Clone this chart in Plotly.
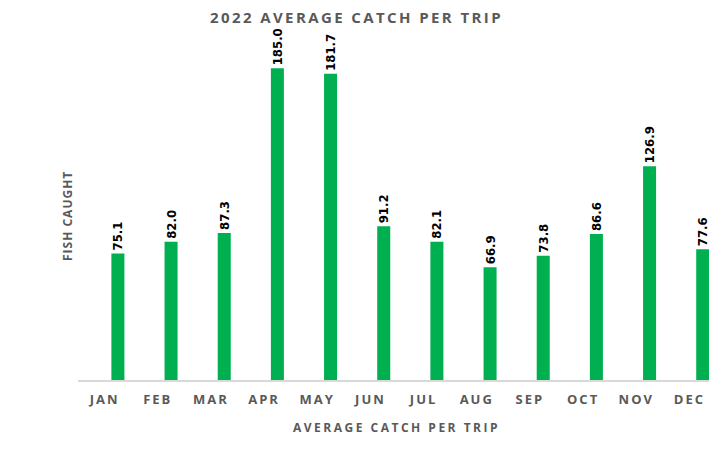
import plotly.graph_objects as go

months = ["JAN", "FEB", "MAR", "APR", "MAY", "JUN", "JUL", "AUG", "SEP", "OCT", "NOV", "DEC"]
catch = [75.1, 82.0, 87.3, 185.0, 181.7, 91.2, 82.1, 66.9, 73.8, 86.6, 126.9, 77.6]
labels = [f"{v:.1f}" for v in catch]

gray = "#595959"


def spaced(s, px):
    return f'<span style="letter-spacing:{px}px"><b>{s}</b></span>'


fig = go.Figure()
fig.add_trace(go.Bar(
    x=list(range(len(months))),
    y=catch,
    text=labels,
    textposition="outside",
    textangle=-90,
    cliponaxis=False,
    textfont=dict(family="Liberation Sans Narrow, DejaVu Sans Condensed, Arial", size=13, color="#000000", weight="bold"),
    marker=dict(color="#00B050", line=dict(width=0)),
    width=0.245,
    offset=0.128,
))

fig.update_layout(
    width=709, height=446,
    margin=dict(l=70, r=1, t=35, b=74),
    paper_bgcolor="white", plot_bgcolor="white",
    showlegend=False,
    uniformtext=dict(mode="show", minsize=13),
    xaxis=dict(
        range=[-0.5, 11.5], automargin=False,
        tickmode="array", tickvals=list(range(len(months))), ticktext=[spaced(m, 2) for m in months],
        tickfont=dict(family="Open Sans, Arial", size=13, color=gray),
        ticklabelstandoff=7,
        showgrid=False, zeroline=False,
        showline=True, linecolor="#d9d9d9", linewidth=1.5,
        ticks="", ticklen=0,
    ),
    yaxis=dict(range=[0, 200], visible=False, showgrid=False, zeroline=False, automargin=False),
)
fig.add_annotation(
    text=spaced("2022 AVERAGE CATCH PER TRIP", 2.4),
    xref="paper", yref="paper", x=(356.5 - 78) / 638, y=(380 - 17) / 337,
    xanchor="center", yanchor="middle", showarrow=False,
    font=dict(family="Open Sans, Arial", size=15, color=gray),
)
fig.add_annotation(
    text=spaced("AVERAGE CATCH PER TRIP", 2.5),
    xref="paper", yref="paper", x=(396 - 78) / 638, y=-(427 - 380) / 337,
    xanchor="center", yanchor="middle", showarrow=False,
    font=dict(family="Open Sans, Arial", size=12, color=gray),
)
fig.add_annotation(
    text=spaced("FISH CAUGHT", 1), textangle=-90,
    xref="paper", yref="paper", x=(67 - 78) / 638, y=(380 - 216) / 337,
    xanchor="center", yanchor="middle", showarrow=False,
    font=dict(family="Open Sans, Arial", size=12, color=gray),
)

fig.write_html("out.html")
